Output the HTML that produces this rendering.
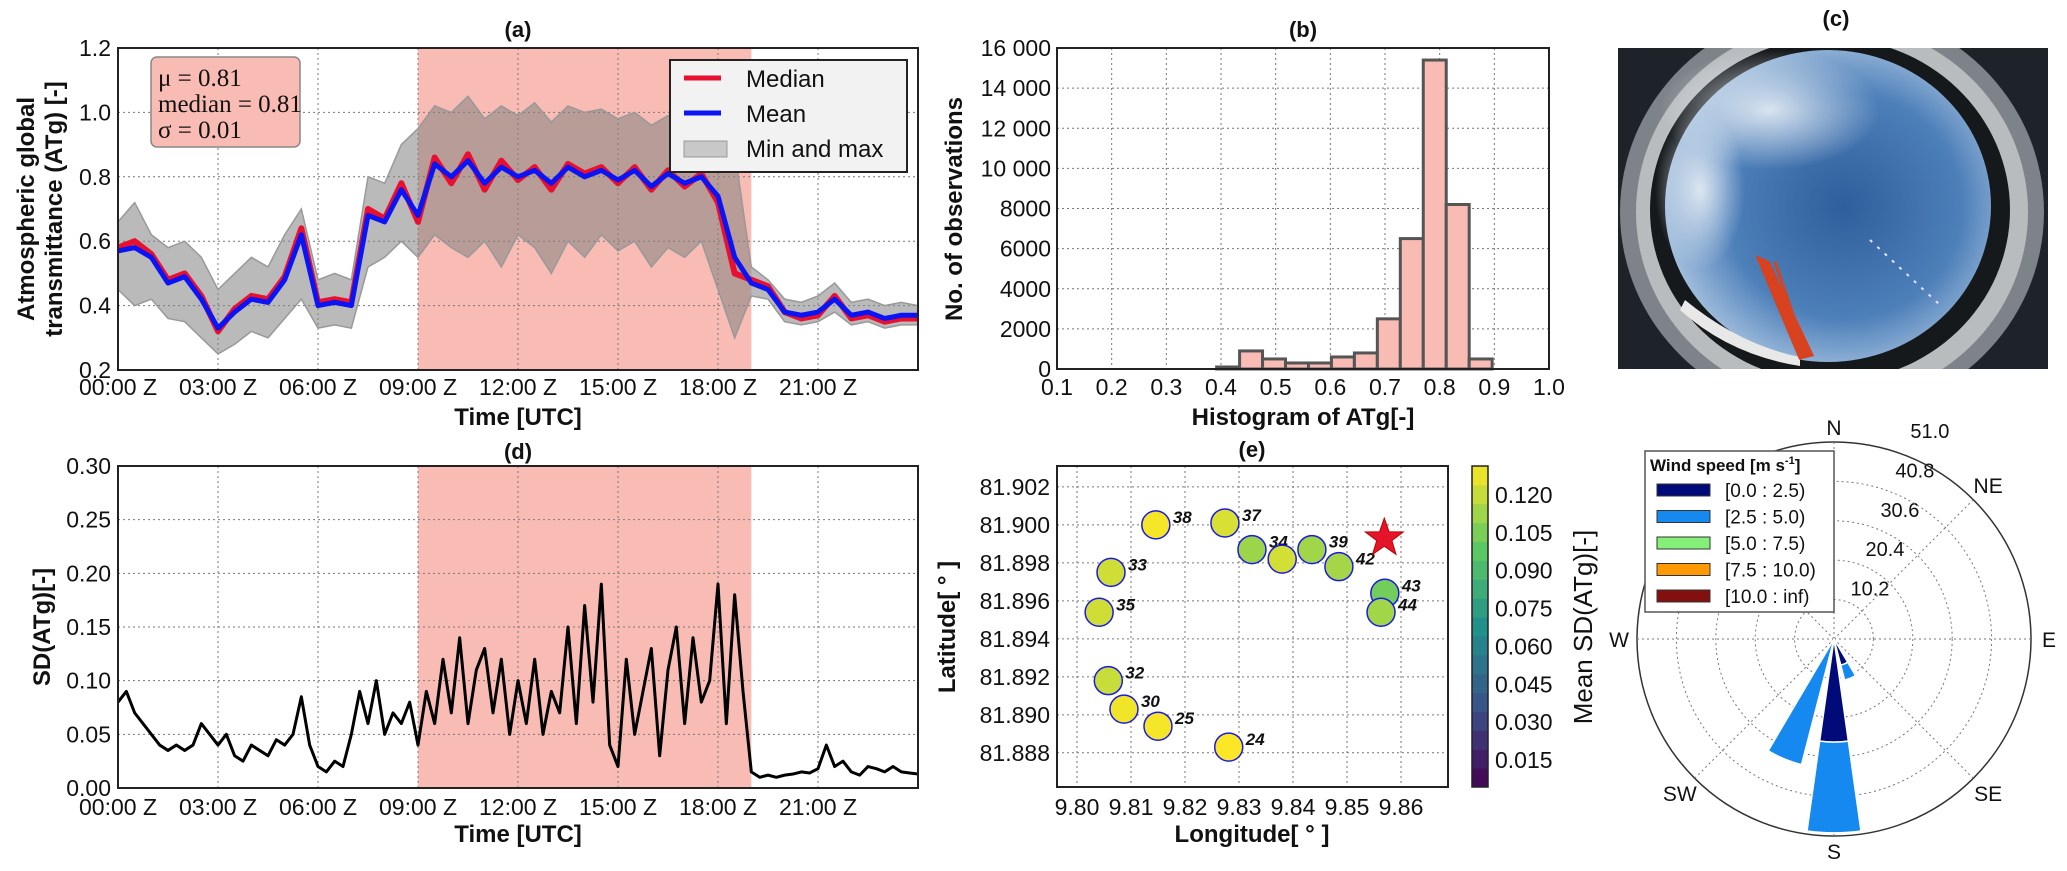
<!DOCTYPE html>
<html><head><meta charset="utf-8"><title>ATg multi-panel figure</title>
<style>
html,body{margin:0;padding:0;background:#fff;}
svg{display:block;font-family:"Liberation Sans","DejaVu Sans",sans-serif;}
.tk{font-size:23px;fill:#111;}
.ttl{font-size:22px;font-weight:bold;fill:#111;}
.lab{font-size:24px;font-weight:bold;fill:#111;}
</style></head>
<body>
<svg id="fig" width="2067" height="871" viewBox="0 0 2067 871">
  <defs>
    <clipPath id="clipA"><rect x="118" y="48" width="800" height="322"/></clipPath>
    <clipPath id="clipD"><rect x="118" y="466" width="800" height="322"/></clipPath>
    <clipPath id="clipPhoto"><rect x="1618" y="48" width="430" height="321"/></clipPath>
    <radialGradient id="skyGrad" cx="0.55" cy="0.5" r="0.6">
      <stop offset="0" stop-color="#2f5f9c"/>
      <stop offset="0.6" stop-color="#4d7fb9"/>
      <stop offset="1" stop-color="#b8cfe6"/>
    </radialGradient>
    <radialGradient id="cloudGrad" cx="0.5" cy="0.5" r="0.5">
      <stop offset="0" stop-color="#e8eef5" stop-opacity="0.9"/>
      <stop offset="1" stop-color="#e8eef5" stop-opacity="0"/>
    </radialGradient>
  </defs>

  <text x="518" y="37" text-anchor="middle" class="ttl">(a)</text>
  <text x="1303" y="37" text-anchor="middle" class="ttl">(b)</text>
  <text x="1836" y="26" text-anchor="middle" class="ttl">(c)</text>
  <text x="518" y="459" text-anchor="middle" class="ttl">(d)</text>
  <text x="1252" y="457" text-anchor="middle" class="ttl">(e)</text>
  <text x="1833" y="248" text-anchor="middle" class="ttl">(f)</text>

  <text transform="translate(34,209) rotate(-90)" text-anchor="middle" class="lab">Atmospheric  global</text>
  <text transform="translate(62,209) rotate(-90)" text-anchor="middle" class="lab">transmittance (ATg) [-]</text>
  <text x="518" y="425" text-anchor="middle" class="lab">Time [UTC]</text>
  <text transform="translate(962,209) rotate(-90)" text-anchor="middle" class="lab">No. of observations</text>
  <text x="1303" y="425" text-anchor="middle" class="lab">Histogram of ATg[-]</text>
  <text transform="translate(50,627) rotate(-90)" text-anchor="middle" class="lab">SD(ATg)[-]</text>
  <text x="518" y="842" text-anchor="middle" class="lab">Time [UTC]</text>
  <text transform="translate(955,627) rotate(-90)" text-anchor="middle" class="lab">Latitude[ ° ]</text>
  <text x="1252" y="842" text-anchor="middle" class="lab">Longitude[ ° ]</text>
  <text transform="translate(1592,627) rotate(-90)" text-anchor="middle" style="font-size:26px;fill:#111">Mean SD(ATg)[-]</text>

  <g id="layer"></g>
</svg>

<script>
// ---------- DATA ----------
const atgHours = [0,0.5,1,1.5,2,2.5,3,3.5,4,4.5,5,5.5,6,6.5,7,7.5,8,8.5,9,9.5,10,10.5,11,11.5,12,12.5,13,13.5,14,14.5,15,15.5,16,16.5,17,17.5,18,18.5,19,19.5,20,20.5,21,21.5,22,22.5,23,23.5,24];
const atgMean = [0.57,0.58,0.55,0.47,0.49,0.42,0.33,0.38,0.42,0.41,0.48,0.62,0.40,0.41,0.40,0.68,0.66,0.76,0.68,0.84,0.80,0.85,0.78,0.83,0.80,0.82,0.78,0.83,0.80,0.82,0.79,0.82,0.77,0.81,0.78,0.80,0.74,0.55,0.47,0.45,0.38,0.37,0.38,0.42,0.37,0.38,0.36,0.37,0.37];
const atgMedian = [0.58,0.60,0.56,0.48,0.50,0.43,0.32,0.39,0.43,0.42,0.49,0.64,0.41,0.42,0.41,0.70,0.67,0.78,0.66,0.86,0.78,0.87,0.76,0.85,0.79,0.83,0.76,0.84,0.81,0.83,0.78,0.83,0.76,0.82,0.77,0.81,0.72,0.50,0.48,0.46,0.38,0.36,0.37,0.43,0.36,0.37,0.35,0.36,0.36];
const atgMax = [0.66,0.72,0.62,0.58,0.60,0.55,0.45,0.50,0.55,0.52,0.62,0.70,0.48,0.50,0.48,0.80,0.78,0.90,0.95,1.02,1.00,1.05,0.98,1.02,0.99,1.03,0.97,1.02,1.00,1.01,0.98,1.00,0.96,0.99,0.97,0.98,0.95,0.88,0.52,0.48,0.42,0.41,0.43,0.47,0.41,0.42,0.40,0.41,0.40];
const atgMin = [0.45,0.40,0.42,0.36,0.35,0.30,0.25,0.28,0.32,0.30,0.36,0.42,0.33,0.34,0.33,0.52,0.55,0.60,0.55,0.62,0.58,0.55,0.60,0.52,0.62,0.58,0.50,0.60,0.55,0.62,0.57,0.60,0.52,0.58,0.55,0.60,0.45,0.30,0.43,0.42,0.35,0.34,0.35,0.38,0.34,0.35,0.33,0.34,0.34];
const timeTicks = [0,3,6,9,12,15,18,21];
const timeTickLabels = ["00:00 Z","03:00 Z","06:00 Z","09:00 Z","12:00 Z","15:00 Z","18:00 Z","21:00 Z"];
const atgTicks = [0.2,0.4,0.6,0.8,1.0,1.2];
const shadeStart = 9.0, shadeEnd = 19.0;

const sdHours = [0,0.25,0.5,0.75,1,1.25,1.5,1.75,2,2.25,2.5,2.75,3,3.25,3.5,3.75,4,4.25,4.5,4.75,5,5.25,5.5,5.75,6,6.25,6.5,6.75,7,7.25,7.5,7.75,8,8.25,8.5,8.75,9,9.25,9.5,9.75,10,10.25,10.5,10.75,11,11.25,11.5,11.75,12,12.25,12.5,12.75,13,13.25,13.5,13.75,14,14.25,14.5,14.75,15,15.25,15.5,15.75,16,16.25,16.5,16.75,17,17.25,17.5,17.75,18,18.25,18.5,18.75,19,19.25,19.5,19.75,20,20.25,20.5,20.75,21,21.25,21.5,21.75,22,22.25,22.5,22.75,23,23.25,23.5,23.75,24];
const sdValues = [0.08,0.09,0.07,0.06,0.05,0.04,0.035,0.04,0.035,0.04,0.06,0.05,
  0.04,0.05,0.03,0.025,0.04,0.035,0.03,0.045,0.04,0.05,0.085,0.04,
  0.02,0.015,0.025,0.02,0.05,0.09,0.06,0.10,0.05,0.07,0.06,0.08,
  0.04,0.09,0.06,0.12,0.07,0.14,0.06,0.11,0.13,0.07,0.12,0.05,
  0.10,0.06,0.12,0.05,0.09,0.07,0.15,0.06,0.17,0.08,0.19,0.04,
  0.02,0.12,0.05,0.09,0.13,0.03,0.11,0.15,0.06,0.14,0.08,0.10,
  0.19,0.06,0.18,0.09,0.015,0.01,0.012,0.01,0.012,0.013,0.015,0.014,
  0.018,0.04,0.02,0.025,0.015,0.012,0.02,0.018,0.015,0.02,0.015,0.014,0.013];
const sdTicks = [0,0.05,0.10,0.15,0.20,0.25,0.30];
const sdTickLabels = ["0.00","0.05","0.10","0.15","0.20","0.25","0.30"];

const histBinStart = [0.392,0.434,0.476,0.518,0.560,0.602,0.644,0.686,0.728,0.770,0.812,0.854];
const histBinWidth = 0.042;
const histCounts = [100,900,500,300,300,600,800,2500,6500,15400,8200,500];
const histXTicks = [0.1,0.2,0.3,0.4,0.5,0.6,0.7,0.8,0.9,1.0];
const histYTicks = [0,2000,4000,6000,8000,10000,12000,14000,16000];
const histYTickLabels = ["0","2000","4000","6000","8000","10 000","12 000","14 000","16 000"];

const stationIds = ["38","37","34","40","39","42","43","44","33","35","32","30","25","24"];
const stationLon = [9.8146,9.8274,9.8324,9.8380,9.8435,9.8485,9.8570,9.8563,9.8063,9.8041,9.8058,9.8087,9.8150,9.8281];
const stationLat = [81.9000,81.9001,81.8987,81.8982,81.8987,81.8978,81.8964,81.8954,81.8975,81.8954,81.8918,81.8903,81.8894,81.8883];
const stationSD = [0.130,0.124,0.112,0.123,0.113,0.114,0.104,0.113,0.122,0.122,0.121,0.129,0.130,0.131];
const shipLon = 9.8569, shipLat = 81.8993;
const lonTicks = [9.80,9.81,9.82,9.83,9.84,9.85,9.86];
const latTicks = [81.888,81.890,81.892,81.894,81.896,81.898,81.900,81.902];
const cbarTicks = [0.015,0.030,0.045,0.060,0.075,0.090,0.105,0.120];

const windDirs = [157.5,180,202.5];
const windCalm = [7,26.7,0.8];
const windLight = [4,23.5,32.8];
const windRings = [10.2,20.4,30.6,40.8,51.0];
const windRingLabels = ["10.2","20.4","30.6","40.8","51.0"];
const windLegendLabels = ["[0.0 : 2.5)","[2.5 : 5.0)","[5.0 : 7.5)","[7.5 : 10.0)","[10.0 : inf)"];
const windLegendColors = ["#000a78","#1589f0","#84f07a","#ff9a05","#840f0f"];

// ---------- HELPERS ----------
const NS = "http://www.w3.org/2000/svg";
const root = document.getElementById("layer");
function mk(tag, attrs, parent){
  const e = document.createElementNS(NS, tag);
  for (const k in attrs) e.setAttribute(k, attrs[k]);
  (parent || root).appendChild(e);
  return e;
}
function txt(str, attrs){
  const e = mk("text", attrs);
  e.textContent = str;
  return e;
}
const xA = h => 118 + h / 24 * 800;
const yA = v => 370 - (v - 0.2) / 1.0 * 322;
const yD = v => 788 - v / 0.30 * 322;
const xB = v => 1057 + (v - 0.1) / 0.9 * 492;
const yB = c => 369 - c / 16000 * 321;
const xE = lon => 1057 + (lon - 9.7963) / (9.8687 - 9.7963) * 391;
const yE = lat => 466 + (81.9031 - lat) / (81.9031 - 81.8862) * 321;
const yC = v => 787 - (v - 0.0043) / (0.1315 - 0.0043) * 321;
const vir = [[0,[68,1,84]],[0.25,[59,82,139]],[0.5,[33,145,140]],[0.75,[94,201,98]],[1,[253,231,37]]];
function viridis(t){
  t = Math.max(0, Math.min(1, t));
  for (let i = 0; i < vir.length - 1; i++){
    const [a, ca] = vir[i], [b, cb] = vir[i + 1];
    if (t <= b){
      const f = (t - a) / (b - a);
      return "rgb(" + ca.map((c, j) => Math.round(c + (cb[j] - c) * f)).join(",") + ")";
    }
  }
  return "rgb(253,231,37)";
}
const cnorm = v => (v - 0.0043) / (0.1315 - 0.0043);
const GRID = {stroke:"#777","stroke-width":1,"stroke-dasharray":"2,3"};

// ---------- PANEL (a) ----------
let el;
el = mk("rect",{x:xA(shadeStart),y:48,width:xA(shadeEnd)-xA(shadeStart),height:322,fill:"#f9bcb4"});


timeTicks.forEach((h,i)=>{
  el = mk("line",Object.assign({x1:xA(h),x2:xA(h),y1:48,y2:370},GRID));
  
  
  el = txt(timeTickLabels[i],{x:xA(h),y:395,"text-anchor":"middle",class:"tk"});
  
  
});
atgTicks.forEach(v=>{
  el = mk("line",Object.assign({x1:118,x2:918,y1:yA(v),y2:yA(v)},GRID));
  
  
  el = txt(v.toFixed(1),{x:111,y:yA(v)+8,"text-anchor":"end",class:"tk"});
  
  
});
const gA = mk("g",{"clip-path":"url(#clipA)"});


let band = atgHours.map((h,i)=>xA(h)+","+yA(atgMax[i])).join(" ") + " " +
  atgHours.slice().reverse().map((h,k)=>{const i=atgHours.length-1-k;return xA(h)+","+yA(atgMin[i]);}).join(" ");
el = mk("polygon",{points:band,fill:"rgba(130,130,130,0.55)",stroke:"#999","stroke-width":1.5},gA);


el = mk("polyline",{points:atgHours.map((h,i)=>xA(h)+","+yA(atgMedian[i])).join(" "),fill:"none",stroke:"#e8102e","stroke-width":6,"stroke-linejoin":"round"},gA);


el = mk("polyline",{points:atgHours.map((h,i)=>xA(h)+","+yA(atgMean[i])).join(" "),fill:"none",stroke:"#0a14f5","stroke-width":5,"stroke-linejoin":"round"},gA);


el = mk("rect",{x:118,y:48,width:800,height:322,fill:"none",stroke:"#222","stroke-width":2});


el = mk("rect",{x:151,y:57,width:149,height:90,rx:6,fill:"#f9bcb4",stroke:"#888","stroke-width":1.5});


const statLines = ["μ = 0.81","median = 0.81","σ = 0.01"];
statLines.forEach((s,i)=>{
  el = txt(s,{x:158,y:86+i*26,style:"font-family:'Liberation Serif',serif;font-size:25px;fill:#111"});
  
  
});
el = mk("rect",{x:670,y:60,width:237,height:112,fill:"#f2f2f2",stroke:"#222","stroke-width":2});


el = mk("line",{x1:684,x2:721,y1:78,y2:78,stroke:"#e8102e","stroke-width":5});


el = mk("line",{x1:684,x2:721,y1:113,y2:113,stroke:"#0a14f5","stroke-width":5});


el = mk("rect",{x:684,y:141,width:43,height:16,fill:"#c8c8c8",stroke:"#999"});


[["Median",87],["Mean",122],["Min and max",157]].forEach(p=>{
  el = txt(p[0],{x:746,y:p[1],style:"font-size:24px;fill:#111"});
  
  
});

// ---------- PANEL (b) ----------
histXTicks.forEach(v=>{
  el = mk("line",Object.assign({x1:xB(v),x2:xB(v),y1:48,y2:369},GRID));
  
  
  el = txt(v.toFixed(1),{x:xB(v),y:395,"text-anchor":"middle",class:"tk"});
  
  
});
histYTicks.forEach((c,i)=>{
  el = mk("line",Object.assign({x1:1057,x2:1549,y1:yB(c),y2:yB(c)},GRID));
  
  
  el = txt(histYTickLabels[i],{x:1051,y:yB(c)+8,"text-anchor":"end",class:"tk"});
  
  
});
histCounts.forEach((c,i)=>{
  el = mk("rect",{x:xB(histBinStart[i]),y:yB(c),width:xB(histBinStart[i]+histBinWidth)-xB(histBinStart[i]),height:yB(0)-yB(c),fill:"#f9bcb4",stroke:"#555","stroke-width":3});
  
  
});
el = mk("rect",{x:1057,y:48,width:492,height:321,fill:"none",stroke:"#222","stroke-width":2});



// ---------- PANEL (c) photo ----------
const gP = mk("g",{"clip-path":"url(#clipPhoto)"});


el = mk("rect",{x:1618,y:48,width:430,height:321,fill:"#1d2328"},gP);


el = mk("ellipse",{cx:1832,cy:212,rx:212,ry:205,fill:"#7d8389"},gP);


el = mk("ellipse",{cx:1832,cy:212,rx:196,ry:190,fill:"#b9bcbf"},gP);


el = mk("ellipse",{cx:1830,cy:210,rx:180,ry:172,fill:"#15191c"},gP);


el = mk("ellipse",{cx:1828,cy:206,rx:163,ry:156,fill:"url(#skyGrad)"},gP);


el = mk("ellipse",{cx:1770,cy:110,rx:110,ry:60,fill:"url(#cloudGrad)"},gP);


el = mk("ellipse",{cx:1700,cy:190,rx:45,ry:80,fill:"url(#cloudGrad)"},gP);


el = mk("path",{d:"M1685 300 Q1740 345 1800 357 L1800 366 Q1730 355 1680 310 Z",fill:"#e8e8e8"},gP);


el = mk("path",{d:"M1758 258 L1768 262 L1812 355 L1800 358 Z M1765 270 L1790 330 M1775 262 L1805 350",fill:"#d8421e",stroke:"#d8421e","stroke-width":3},gP);


el = mk("line",{x1:1870,y1:240,x2:1940,y2:305,stroke:"#e6e6ff","stroke-width":2,"stroke-dasharray":"3,7"},gP);



// ---------- PANEL (d) ----------
el = mk("rect",{x:xA(shadeStart),y:466,width:xA(shadeEnd)-xA(shadeStart),height:322,fill:"#f9bcb4"});


timeTicks.forEach((h,i)=>{
  el = mk("line",Object.assign({x1:xA(h),x2:xA(h),y1:466,y2:788},GRID));
  
  
  el = txt(timeTickLabels[i],{x:xA(h),y:815,"text-anchor":"middle",class:"tk"});
  
  
});
sdTicks.forEach((v,i)=>{
  el = mk("line",Object.assign({x1:118,x2:918,y1:yD(v),y2:yD(v)},GRID));
  
  
  el = txt(sdTickLabels[i],{x:111,y:yD(v)+8,"text-anchor":"end",class:"tk"});
  
  
});
const gD = mk("g",{"clip-path":"url(#clipD)"});


el = mk("polyline",{points:sdHours.map((h,i)=>xA(h)+","+yD(sdValues[i])).join(" "),fill:"none",stroke:"#000","stroke-width":3,"stroke-linejoin":"round"},gD);


el = mk("rect",{x:118,y:466,width:800,height:322,fill:"none",stroke:"#222","stroke-width":2});



// ---------- PANEL (e) ----------
lonTicks.forEach(v=>{
  el = mk("line",Object.assign({x1:xE(v),x2:xE(v),y1:466,y2:787},GRID));
  
  
  el = txt(v.toFixed(2),{x:xE(v),y:815,"text-anchor":"middle",class:"tk"});
  
  
});
latTicks.forEach(v=>{
  el = mk("line",Object.assign({x1:1057,x2:1448,y1:yE(v),y2:yE(v)},GRID));
  
  
  el = txt(v.toFixed(3),{x:1050,y:yE(v)+8,"text-anchor":"end",class:"tk"});
  
  
});
stationIds.forEach((id,i)=>{
  const cx = xE(stationLon[i]), cy = yE(stationLat[i]);
  el = mk("circle",{cx:cx,cy:cy,r:14,fill:viridis(cnorm(stationSD[i])),stroke:"#1a1ae6","stroke-width":1.5});
  
  
  el = txt(id,{x:cx+17,y:cy-2,style:"font-size:17px;font-weight:bold;font-style:italic;fill:#111"});
  
  
});
(function(){
  const sx = xE(shipLon), sy = yE(shipLat), pts = [];
  for (let k=0;k<10;k++){ const a = Math.PI/5*k - Math.PI/2; const r = k%2 ? 8 : 20; pts.push((sx+r*Math.cos(a)).toFixed(1)+","+(sy+r*Math.sin(a)).toFixed(1)); }
  el = mk("polygon",{points:pts.join(" "),fill:"#e5142a",stroke:"#b00","stroke-width":1});
  
  
})();
el = mk("rect",{x:1057,y:466,width:391,height:321,fill:"none",stroke:"#222","stroke-width":2});


for (let k=0;k<17;k++){
  const v0 = 0.0043 + k*(0.1315-0.0043)/17, v1 = 0.0043 + (k+1)*(0.1315-0.0043)/17;
  el = mk("rect",{x:1472,y:yC(v1),width:16,height:yC(v0)-yC(v1)+0.5,fill:viridis(cnorm((v0+v1)/2))});
  
  
}
el = mk("rect",{x:1472,y:466,width:16,height:321,fill:"none",stroke:"#222","stroke-width":1.5});


cbarTicks.forEach(v=>{
  el = txt(v.toFixed(3),{x:1495,y:yC(v)+8,class:"tk"});
  
  
});

// ---------- PANEL (f) wind rose ----------
const pcx = 1834, pcy = 639, PR = 197, rmax = 51.0;
const pr = v => v / rmax * PR;
const pxy = (deg, r) => [pcx + r*Math.sin(deg*Math.PI/180), pcy - r*Math.cos(deg*Math.PI/180)];
windRings.forEach((v,i)=>{
  el = mk("circle",Object.assign({cx:pcx,cy:pcy,r:pr(v),fill:"none"},i===windRings.length-1?{stroke:"#333","stroke-width":1.5}:GRID));
  
  
  el = txt(windRingLabels[i],{x:pcx+pr(v)*0.38+21,y:pcy-pr(v)-4,"text-anchor":"middle",style:"font-size:20px;fill:#111"});
  
  
});
[0,45,90,135,180,225,270,315].forEach(d=>{
  const [x,y] = pxy(d, PR);
  el = mk("line",Object.assign({x1:pcx,y1:pcy,x2:x,y2:y},GRID));
  
  
});
function wedge(dir, r0, r1, color){
  const h = 8, a0 = dir - h, a1 = dir + h;
  const p1 = pxy(a0, r0), p2 = pxy(a0, r1), p3 = pxy(a1, r1), p4 = pxy(a1, r0);
  const d = "M"+p1+" L"+p2+" A"+r1+","+r1+" 0 0 1 "+p3+" L"+p4+" A"+r0+","+r0+" 0 0 0 "+p1+" Z";
  return mk("path",{d:d,fill:color,stroke:"#fff","stroke-width":1.5});
}
windDirs.forEach((d,i)=>{
  el = wedge(d, 0.01, pr(windCalm[i]), "#000a78");
  
  
  el = wedge(d, pr(windCalm[i]), pr(windCalm[i]+windLight[i]), "#1589f0");
  
  
});
[["N",0,212],["NE",45,218],["E",90,215],["SE",135,218],["S",180,212],["SW",225,218],["W",270,215]].forEach(p=>{
  const [x,y] = pxy(p[1], p[2]);
  el = txt(p[0],{x:x,y:y+8,"text-anchor":"middle",style:"font-size:21px;fill:#111"});
  
  
});
el = mk("rect",{x:1645,y:451,width:189,height:161,fill:"#fff",stroke:"#555","stroke-width":1.5});


el = mk("text",{x:1650,y:471,style:"font-size:17px;font-weight:bold;fill:#111"});


el.appendChild(document.createTextNode("Wind speed [m s"));
const sup = document.createElementNS(NS,"tspan");
sup.setAttribute("dy","-7");
sup.setAttribute("style","font-size:11px");
sup.textContent = "-1";
el.appendChild(sup);
const clos = document.createElementNS(NS,"tspan");
clos.setAttribute("dy","7");
clos.textContent = "]";
el.appendChild(clos);
windLegendLabels.forEach((s,i)=>{
  const y = 490 + i*26.5;
  el = mk("rect",{x:1657,y:y-6,width:53,height:12,fill:windLegendColors[i],stroke:"#333","stroke-width":1});
  
  
  el = txt(s,{x:1725,y:y+7,style:"font-size:19px;fill:#111"});
  
  
});
</script>
</body></html>
